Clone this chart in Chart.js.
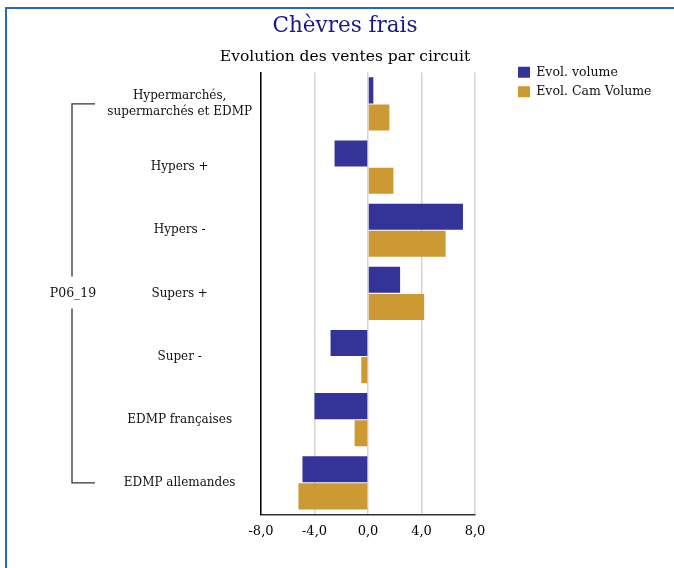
<!DOCTYPE html>
<html>
<head>
<meta charset="utf-8">
<script src="https://cdn.jsdelivr.net/npm/chart.js@4.4.1/dist/chart.umd.min.js"></script>
<style>
  html, body { margin: 0; padding: 0; background: #fff; }
  #wrap { position: relative; width: 674px; height: 568px; overflow: hidden; }
  #frame { position: absolute; left: 5px; top: 7px; width: 720px; height: 620px;
           border-left: 2px solid #2468b8; border-top: 2px solid #2468b8; }
  canvas { position: absolute; left: 0; top: 0; }
</style>
</head>
<body>
<div id="wrap">
  <div id="frame"></div>
  <canvas id="c" width="674" height="568"></canvas>
</div>
<script>
const titleText = 'Chèvres frais';
const subtitleText = 'Evolution des ventes par circuit';
const groupLabel = 'P06_19';
const categories = [
  ['Hypermarchés,', 'supermarchés et EDMP'],
  'Hypers +',
  'Hypers -',
  'Supers +',
  'Super -',
  'EDMP françaises',
  'EDMP allemandes'
];
const seriesNames = ['Evol. volume', 'Evol. Cam Volume'];
const evolVolume = [0.4, -2.5, 7.1, 2.4, -2.8, -4.0, -4.9];
const evolCamVolume = [1.6, 1.9, 5.8, 4.2, -0.5, -1.0, -5.2];
const xTickLabels = ['-8,0', '-4,0', '0,0', '4,0', '8,0'];

const FONT = "'DejaVu Serif', 'Liberation Serif', serif";

const bracketPlugin = {
  id: 'bracket',
  afterDraw(chart) {
    const ys = chart.scales.y;
    const n = chart.data.labels.length;
    const top = ys.getPixelForValue(0);
    const bottom = ys.getPixelForValue(n - 1);
    const mid = (top + bottom) / 2;
    const x = 72, x2 = 95;
    const ctx = chart.ctx;
    ctx.save();
    ctx.strokeStyle = '#333';
    ctx.lineWidth = 1.3;
    ctx.beginPath();
    ctx.moveTo(x2, top); ctx.lineTo(x, top); ctx.lineTo(x, mid - 17);
    ctx.moveTo(x, mid + 15); ctx.lineTo(x, bottom); ctx.lineTo(x2, bottom);
    ctx.stroke();
    ctx.fillStyle = '#111';
    ctx.font = '12.5px ' + FONT;
    ctx.textAlign = 'center';
    ctx.textBaseline = 'middle';
    ctx.fillText(groupLabel, x + 1, mid);
    ctx.restore();
  }
};

new Chart(document.getElementById('c'), {
  type: 'bar',
  data: {
    labels: categories,
    datasets: [
      { label: seriesNames[0], data: evolVolume, backgroundColor: '#333399', borderWidth: 0,
        categoryPercentage: 0.86, barPercentage: 0.96 },
      { label: seriesNames[1], data: evolCamVolume, backgroundColor: '#CC9933', borderWidth: 0,
        categoryPercentage: 0.86, barPercentage: 0.96 }
    ]
  },
  options: {
    indexAxis: 'y',
    responsive: false,
    animation: false,
    devicePixelRatio: 1,
    layout: { padding: { left: 32, right: 16, top: 6, bottom: 20 } },
    font: { family: FONT },
    plugins: {
      title: {
        display: true, text: titleText, color: '#1a1a8a',
        font: { family: FONT, size: 21.5, weight: 'normal' },
        padding: { top: 8, bottom: 2 }
      },
      subtitle: {
        display: true, text: subtitleText, color: '#000',
        font: { family: FONT, size: 15.5, weight: 'normal' },
        padding: { top: 6, bottom: 6 }
      },
      legend: {
        position: 'right',
        align: 'start',
        maxWidth: 147,
        title: { display: true, text: '', padding: { top: 38.6, bottom: 0 } },
        labels: {
          boxWidth: 12, boxHeight: 11, padding: 7, color: '#111',
          font: { family: FONT, size: 12.5 }
        }
      },
      tooltip: { enabled: false }
    },
    scales: {
      x: {
        min: -8, max: 8,
        ticks: {
          stepSize: 4, color: '#000', padding: 9,
          font: { family: FONT, size: 13 },
          callback: (v, i) => xTickLabels[i]
        },
        grid: { color: '#d4d4d4', lineWidth: 1.5, drawTicks: false },
        border: { display: true, color: '#333', width: 1.5 }
      },
      y: {
        type: 'category',
        grid: { display: false, drawTicks: false },
        border: { display: true, color: '#000', width: 1.5 },
        ticks: {
          crossAlign: 'center', padding: 9, color: '#111',
          font: { family: FONT, size: 12, lineHeight: 1.4 }
        },
        afterFit: s => { s.width = 229; }
      },
      yR: {
        type: 'category',
        position: 'right',
        display: true,
        grid: { display: false, drawTicks: false },
        border: { display: false },
        ticks: { display: false },
        afterFit: s => { s.width = 36; }
      }
    }
  },
  plugins: [bracketPlugin]
});
</script>
</body>
</html>
